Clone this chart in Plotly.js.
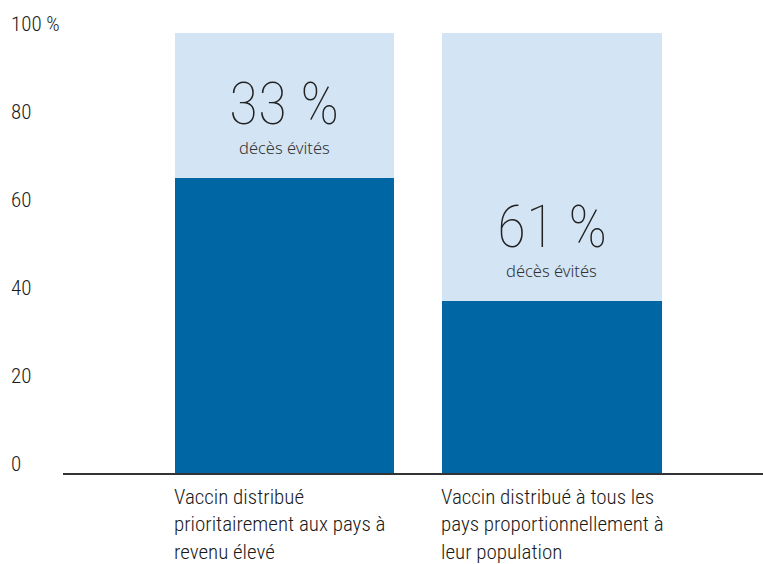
<!DOCTYPE html>
<html><head><meta charset="utf-8">
<script src="https://cdn.plot.ly/plotly-3.0.1.min.js"></script>
<style>html,body{margin:0;padding:0;background:#fff;}#chart{width:763px;height:564px;}</style>
</head><body><div id="chart"></div>
<script>
var categories = ["Vaccin distribué<br>prioritairement aux pays à<br>revenu élevé", "Vaccin distribué à tous les<br>pays proportionnellement à<br>leur population"];
var deaths = [67, 39];
var avoided = [33, 61];
var avoidedLabels = ["33 %", "61 %"];
var subLabel = "décès évités";
var yTickVals = [0, 20, 40, 60, 80, 100];
var yTickText = ["0", "20", "40", "60", "80", "100 %"];

var narrow = "'Roboto Condensed', 'DejaVu Sans Condensed', sans-serif";
var barWidth = 0.82;
var xs = [0, 1];

var traces = [
  {type: "bar", x: xs, y: deaths, width: barWidth, marker: {color: "#0066a4"}, hoverinfo: "skip"},
  {type: "bar", x: xs, y: avoided, width: barWidth, marker: {color: "#d3e4f4"}, hoverinfo: "skip"}
];

var ann = [];
xs.forEach(function (x, i) {
  ann.push({x: x, y: deaths[i], xref: "x", yref: "y", text: avoidedLabels[i], showarrow: false,
    yshift: 75, yanchor: "middle", height: 60, valign: "middle",
    font: {family: narrow, size: 60, color: "#222", weight: 100}});
  ann.push({x: x, y: deaths[i], xref: "x", yref: "y", text: subLabel, showarrow: false,
    yshift: 31, yanchor: "middle", font: {family: "'Noto Sans', sans-serif", size: 16.5, color: "#333", weight: 300}});
  ann.push({x: x - barWidth / 2, y: 0, xref: "x", yref: "y", text: categories[i], showarrow: false,
    xanchor: "left", yanchor: "top", align: "left", xshift: -3, yshift: -10,
    font: {family: narrow, size: 21, color: "#1a1a1a", weight: 300}});
});
yTickVals.forEach(function (v, i) {
  ann.push({x: 0, xref: "paper", xshift: -54, y: v, yref: "y", yshift: 9, text: yTickText[i],
    showarrow: false, xanchor: "left", yanchor: "middle",
    font: {family: narrow, size: 21, color: "#1a1a1a", weight: 300}});
});

var layout = {
  width: 763, height: 564,
  margin: {l: 63, r: 0, t: 33, b: 91},
  paper_bgcolor: "#fff", plot_bgcolor: "#fff",
  barmode: "stack", showlegend: false,
  xaxis: {range: [-0.828, 1.789], showticklabels: false, showgrid: false, zeroline: false,
    showline: true, linecolor: "#333", linewidth: 1.5, ticks: ""},
  yaxis: {range: [0, 100], showticklabels: false, showgrid: false, zeroline: false, showline: false, ticks: ""},
  annotations: ann
};
Plotly.newPlot("chart", traces, layout, {staticPlot: true, displayModeBar: false});
</script>
</body></html>
